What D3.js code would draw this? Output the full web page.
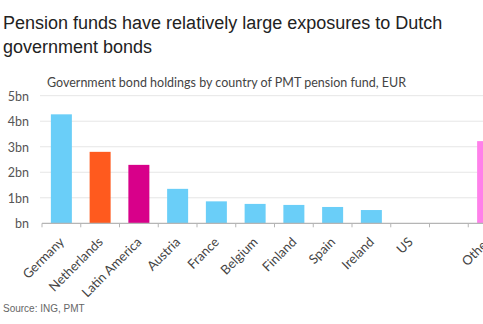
<!DOCTYPE html>
<html>
<head>
<meta charset="utf-8">
<script src="https://cdn.jsdelivr.net/npm/d3@7"></script>
<style>
  html, body { margin: 0; padding: 0; background: #fff; overflow: hidden; }
  svg { display: block; }
</style>
</head>
<body>
<script>
// Government bond holdings of the PMT pension fund, by issuer country (EUR bn)
const categories = ["Germany", "Netherlands", "Latin America", "Austria", "France",
                    "Belgium", "Finland", "Spain", "Ireland", "US", "", "Other"];
const holdings = [4.27, 2.80, 2.29, 1.35, 0.86, 0.76, 0.72, 0.64, 0.52, 0, 0, 3.22];
const barColors = ["#6ACEF8", "#FF5A1E", "#D8008A", "#6ACEF8", "#6ACEF8", "#6ACEF8",
                   "#6ACEF8", "#6ACEF8", "#6ACEF8", "#6ACEF8", "#6ACEF8", "#FF80EA"];
const yTicks = [0, 1, 2, 3, 4, 5];
const yTickLabels = ["bn", "1bn", "2bn", "3bn", "4bn", "5bn"];

const W = 483, H = 324;
const svg = d3.select("body").append("svg").attr("width", W).attr("height", H);

// Headline
const title = svg.append("text")
  .attr("font-family", "Liberation Sans, Arial, sans-serif")
  .attr("font-size", 18)
  .attr("fill", "#222");
title.append("tspan").attr("x", 3).attr("y", 29)
  .text("Pension funds have relatively large exposures to Dutch");
title.append("tspan").attr("x", 3).attr("y", 53)
  .text("government bonds");

const chartFont = "Lato, 'Noto Sans', sans-serif";

svg.append("text")
  .attr("x", 47).attr("y", 87)
  .attr("font-family", chartFont)
  .attr("font-size", 12.5)
  .attr("fill", "#444")
  .text("Government bond holdings by country of PMT pension fund, EUR");

// Scales
const step = 38.75;
const x0 = 42;
const x = d3.scaleBand()
  .domain(d3.range(categories.length))
  .range([x0, x0 + step * categories.length])
  .paddingInner(0.458)
  .paddingOuter(0.229);

const y = d3.scaleLinear().domain([0, 5]).range([223.3, 95.7]);

// Horizontal gridlines
svg.append("g")
  .selectAll("line")
  .data(yTicks.filter(d => d > 0))
  .join("line")
  .attr("x1", x0 - 2).attr("x2", W)
  .attr("y1", d => y(d)).attr("y2", d => y(d))
  .attr("stroke", "#e6e6e6")
  .attr("stroke-width", 1);

// Y axis labels
const yAxis = d3.axisLeft(y)
  .tickValues(yTicks)
  .tickSize(0)
  .tickPadding(0)
  .tickFormat((d, i) => yTickLabels[i]);
const gy = svg.append("g").attr("transform", "translate(29,0)").call(yAxis);
gy.select(".domain").remove();
gy.selectAll("text")
  .attr("font-family", chartFont)
  .attr("font-size", 12.5)
  .attr("fill", "#555")
  .attr("dy", "0.36em");

// Bars
svg.append("g")
  .selectAll("rect")
  .data(holdings)
  .join("rect")
  .attr("x", (d, i) => x(i))
  .attr("width", x.bandwidth())
  .attr("y", d => y(d))
  .attr("height", d => y(0) - y(d))
  .attr("fill", (d, i) => barColors[i]);

// Baseline with ticks at category boundaries
const base = svg.append("g");
base.append("line")
  .attr("x1", x0).attr("x2", W)
  .attr("y1", y(0)).attr("y2", y(0))
  .attr("stroke", "#b5b5b5").attr("stroke-width", 1.2);
base.selectAll("line.tick")
  .data(d3.range(categories.length + 1))
  .join("line")
  .attr("class", "tick")
  .attr("x1", i => x0 + step * i).attr("x2", i => x0 + step * i)
  .attr("y1", y(0)).attr("y2", y(0) + 4)
  .attr("stroke", "#b5b5b5").attr("stroke-width", 1);

// Category labels
svg.append("g")
  .selectAll("text")
  .data(categories)
  .join("text")
  .attr("transform", (d, i) => `translate(${x(i) + x.bandwidth() / 2 - 2},${y(0) + 14}) rotate(-45)`)
  .attr("text-anchor", "end")
  .attr("dy", "0.6em")
  .attr("font-family", chartFont)
  .attr("font-size", 13)
  .attr("fill", "#444")
  .text(d => d);

// Source note
svg.append("text")
  .attr("x", 3).attr("y", 312)
  .attr("font-family", "Liberation Sans, Arial, sans-serif")
  .attr("font-size", 10)
  .attr("fill", "#666")
  .text("Source: ING, PMT");
</script>
</body>
</html>
